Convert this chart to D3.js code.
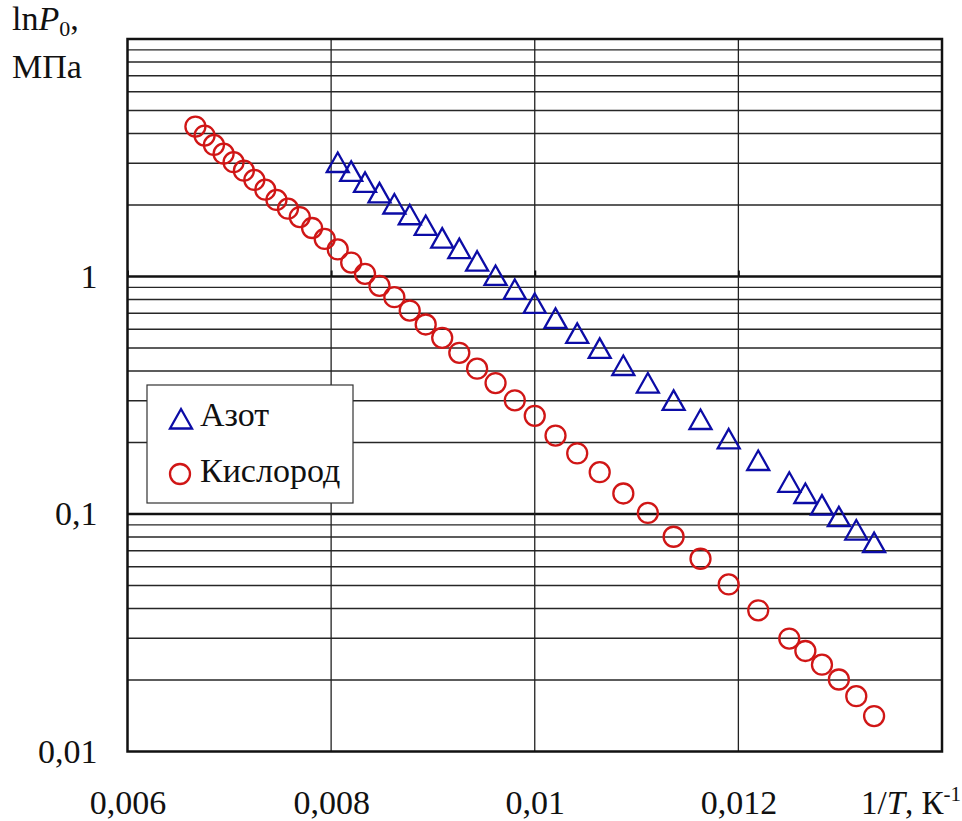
<!DOCTYPE html>
<html>
<head>
<meta charset="utf-8">
<script src="https://cdn.jsdelivr.net/npm/d3@7"></script>
<style>
  body { margin: 0; background: #fff; }
  svg text { font-family: "Liberation Serif", Tinos, "DejaVu Serif", serif; fill: #111; }
</style>
</head>
<body>
<script>
// азот (треугольники)
var azotX = [0.008065, 0.008197, 0.008333, 0.008475, 0.008621, 0.008772, 0.008929,
  0.009091, 0.009259, 0.009434, 0.009615, 0.009804, 0.01, 0.010204, 0.010417,
  0.010638, 0.01087, 0.011111, 0.011364, 0.011628, 0.011905, 0.012195, 0.0125,
  0.012658, 0.012821, 0.012987, 0.013158, 0.013333];
var azotY = [3.02, 2.77, 2.49, 2.25, 2.02, 1.82, 1.64, 1.45, 1.31, 1.16, 1.01, 0.882,
  0.770, 0.666, 0.576, 0.498, 0.422, 0.356, 0.301, 0.250, 0.207, 0.168, 0.136,
  0.122, 0.109, 0.0974, 0.0856, 0.0758];

// кислород (кружки)
var kislX = [0.006667, 0.006757, 0.006849, 0.006944, 0.007042, 0.007143, 0.007246,
  0.007353, 0.007463, 0.007576, 0.007692, 0.007813, 0.007937, 0.008065, 0.008197,
  0.008333, 0.008475, 0.008621, 0.008772, 0.008929, 0.009091, 0.009259, 0.009434,
  0.009615, 0.009804, 0.01, 0.010204, 0.010417, 0.010638, 0.01087, 0.011111,
  0.011364, 0.011628, 0.011905, 0.012195, 0.0125, 0.012658, 0.012821, 0.012987,
  0.013158, 0.013333];
var kislY = [4.28, 3.92, 3.58, 3.29, 3.03, 2.79, 2.55, 2.32, 2.10, 1.93, 1.78, 1.60,
  1.44, 1.30, 1.145, 1.026, 0.914, 0.818, 0.719, 0.628, 0.552, 0.477, 0.409, 0.356,
  0.301, 0.259, 0.214, 0.180, 0.150, 0.122, 0.101, 0.0802, 0.0648, 0.0505, 0.0393,
  0.0299, 0.0265, 0.0232, 0.0201, 0.0171, 0.0141];

var xTicks = [0.006, 0.008, 0.01, 0.012];
var xGrid = [0.008, 0.01, 0.012];
var yTicks = [0.01, 0.1, 1];
var yMajor = [0.1, 1];
var legendNames = ["Азот", "Кислород"];

var w = 962, h = 821;
var pLeft = 127.5, pRight = 942, pTop = 39, pBottom = 751.5;
var serif = "'Liberation Serif', Tinos, 'DejaVu Serif', serif";
var fs = 34;
var blue = "#0c0ca6", red = "#d01616";

var svg = d3.select("body").append("svg")
  .attr("width", w).attr("height", h);

var x = d3.scaleLinear().domain([0.006, 0.014]).range([pLeft, pRight]);
var y = d3.scaleLog().domain([0.01, 10]).range([pBottom, pTop]);

// второстепенная сетка 2..9 в каждой декаде
var minor = [];
[0.01, 0.1, 1].forEach(function(d) {
  for (var k = 2; k <= 9; k++) minor.push(d * k);
});

svg.selectAll(".minor").data(minor).enter().append("line")
  .attr("x1", pLeft).attr("x2", pRight)
  .attr("y1", function(d) { return y(d); })
  .attr("y2", function(d) { return y(d); })
  .attr("stroke", "#262626").attr("stroke-width", 1.4);

svg.selectAll(".major").data(yMajor).enter().append("line")
  .attr("x1", pLeft).attr("x2", pRight)
  .attr("y1", function(d) { return y(d); })
  .attr("y2", function(d) { return y(d); })
  .attr("stroke", "#111").attr("stroke-width", 2.5);

svg.selectAll(".vgrid").data(xGrid).enter().append("line")
  .attr("x1", function(d) { return x(d); })
  .attr("x2", function(d) { return x(d); })
  .attr("y1", pTop).attr("y2", pBottom)
  .attr("stroke", "#222").attr("stroke-width", 1.3);

// ось X пересекает ось Y в точке 1 — короткие засечки вверх
var cross = svg.append("g").attr("transform", "translate(0," + y(1) + ")")
  .call(d3.axisTop(x).tickValues(xTicks).tickSize(6).tickFormat(""));
cross.select(".domain").remove();
cross.selectAll("line").attr("stroke", "#111").attr("stroke-width", 2);

// рамка
svg.append("rect")
  .attr("x", pLeft).attr("y", pTop)
  .attr("width", pRight - pLeft).attr("height", pBottom - pTop)
  .attr("fill", "none").attr("stroke", "#111").attr("stroke-width", 2.5);

var fmt = function(d) { return String(d).replace(".", ","); };

var gx = svg.append("g").attr("transform", "translate(0," + pBottom + ")")
  .call(d3.axisBottom(x).tickValues(xTicks).tickSize(0).tickPadding(38).tickFormat(fmt));
gx.select(".domain").remove();
gx.attr("font-family", serif).attr("font-size", fs);
gx.selectAll("text").attr("fill", "#111");

var gy = svg.append("g").attr("transform", "translate(" + pLeft + ",0)")
  .call(d3.axisLeft(y).tickValues(yTicks).tickSize(0).tickPadding(30).tickFormat(fmt));
gy.select(".domain").remove();
gy.attr("font-family", serif).attr("font-size", fs);
gy.selectAll("text").attr("fill", "#111");

// подписи осей
var yt = svg.append("text").attr("x", 12).attr("y", 30).style("font-size", fs + "px");
yt.append("tspan").text("ln");
yt.append("tspan").style("font-style", "italic").text("P");
yt.append("tspan").attr("dy", 6).style("font-size", "22px").text("0");
yt.append("tspan").attr("dy", -6).text(",");
svg.append("text").attr("x", 12).attr("y", 78).style("font-size", fs + "px").text("МПа");

var xt = svg.append("text").attr("x", 961).attr("y", 814)
  .attr("text-anchor", "end").style("font-size", "33px");
xt.append("tspan").text("1/");
xt.append("tspan").style("font-style", "italic").text("T");
xt.append("tspan").text(", К");
xt.append("tspan").attr("dy", -13).style("font-size", "21px").text("-1");

// маркеры
function tri(cx, cy) {
  return "M" + cx + "," + (cy - 10) + "L" + (cx + 11) + "," + (cy + 9.5) +
    "L" + (cx - 11) + "," + (cy + 9.5) + "Z";
}

svg.selectAll(".azot").data(azotX).enter().append("path")
  .attr("d", function(d, i) { return tri(x(d), y(azotY[i])); })
  .attr("fill", "none").attr("stroke", blue).attr("stroke-width", 2.3);

svg.selectAll(".kisl").data(kislX).enter().append("circle")
  .attr("cx", function(d) { return x(d); })
  .attr("cy", function(d, i) { return y(kislY[i]); })
  .attr("r", 10)
  .attr("fill", "none").attr("stroke", red).attr("stroke-width", 2.3);

// легенда
var lg = svg.append("g");
lg.append("rect").attr("x", 147).attr("y", 385).attr("width", 206).attr("height", 118)
  .attr("fill", "#fff").attr("stroke", "#333").attr("stroke-width", 1.2);
lg.append("path").attr("d", tri(181, 419)).attr("fill", "none")
  .attr("stroke", blue).attr("stroke-width", 2.3);
lg.append("circle").attr("cx", 180).attr("cy", 474).attr("r", 10)
  .attr("fill", "none").attr("stroke", red).attr("stroke-width", 2.3);
lg.selectAll(".lt").data(legendNames).enter().append("text")
  .attr("x", 200)
  .attr("y", function(d, i) { return 426 + i * 56; })
  .style("font-size", fs + "px")
  .text(function(d) { return d; });
</script>
</body>
</html>
